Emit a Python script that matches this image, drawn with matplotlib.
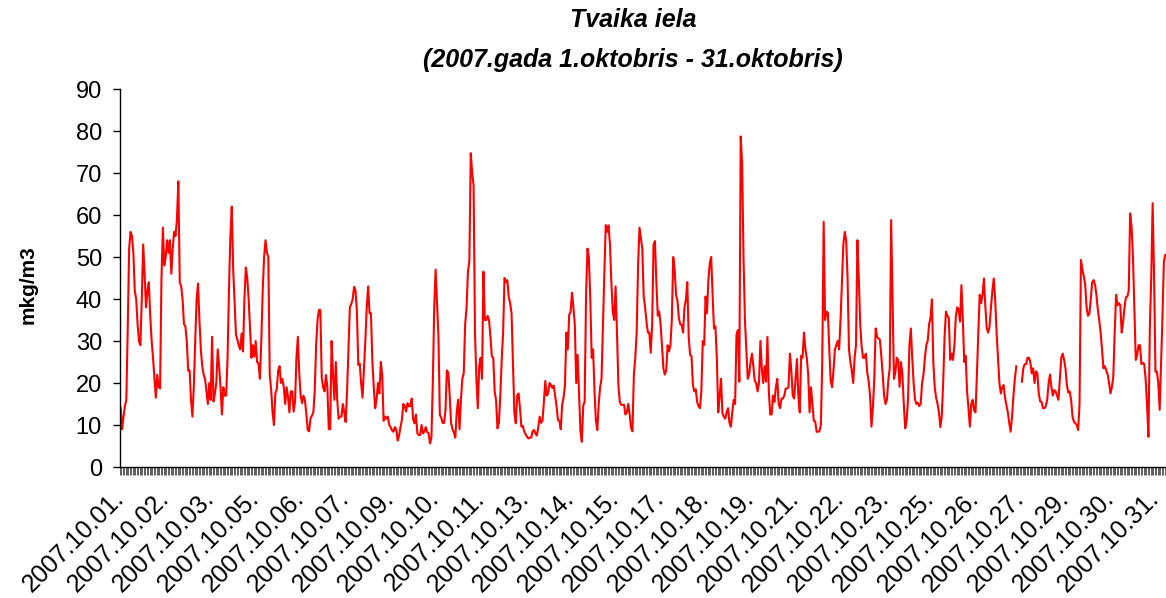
import numpy as np
import pandas as pd
import matplotlib
matplotlib.use("Agg")
import matplotlib.pyplot as plt

# hourly concentration (mkg/m3), one list per week
week1 = [
    14, 9, 12, 14.5, 16, 33, 52, 56, 55, 51,
    42, 40, 34, 30, 29, 40, 53, 46, 38, 42,
    44, 36, 30, 26, 21, 16.5, 22, 19, 18.7, 45,
    57, 48, 50, 54, 51, 54, 46, 52, 56, 55,
    59, 68, 44, 43, 40, 34, 33.5, 30, 23, 23,
    16, 12, 19, 30, 40, 43.7, 35, 28, 24, 22,
    21, 18, 15, 20, 16, 31, 15.6, 17.5, 20, 28,
    24, 19, 12.5, 19, 17, 17, 26, 42, 55, 62,
    47, 39, 31.5, 30.3, 29, 28, 31.8, 27.5, 40, 47.5,
    45, 40, 33, 26, 29, 26.3, 30, 25, 24.7, 21,
    30, 42, 50, 54, 51, 50, 22, 18.5, 13, 10,
    17.5, 18.5, 23, 24, 20, 21, 19, 15, 19, 16.7,
    13, 18, 18, 13.2, 15.5, 26, 31, 22.3, 17, 15.2,
    17, 16, 12.8, 8.8, 8.5, 11.6, 12.2, 13, 18, 29,
    35, 37.4, 37.4, 21.2, 19, 18, 21.9, 19, 9, 9,
    30, 22, 16, 25, 16, 11.5, 12, 12, 15, 13,
    10.7, 18, 28, 38, 38.8, 40, 42.9, 42.1,
]
week2 = [
    37, 24.3, 24.6, 20, 16.5, 23, 30, 38, 43, 36.6,
    36.6, 25, 19, 14, 16, 20, 17.5, 25, 22, 11,
    12, 11.5, 12, 10, 9.5, 8.7, 8.4, 9.5, 9, 6.3,
    7.5, 9.5, 11.2, 15, 14.5, 13.2, 15.2, 14.4, 14.5, 16.3,
    11.3, 10.4, 12.5, 8, 7.6, 7.6, 10, 8, 8.5, 9.5,
    8.3, 8, 5.6, 7, 20, 38, 47, 39, 31, 12.4,
    11.7, 10.5, 10.5, 13.5, 23, 22.5, 17, 10.5, 9, 8.2,
    7, 13, 16, 9, 16, 21, 22.3, 34, 38, 46.5,
    49, 74.7, 70, 67, 32, 21, 14, 24, 26, 21,
    46.5, 35, 35, 36, 35, 31, 26.3, 26, 18, 15.8,
    9.2, 10.5, 17, 25.5, 32, 45, 44, 44.5, 40.5, 39,
    36.6, 25, 13, 10.4, 17, 17.5, 14, 9.6, 9.8, 8.5,
    7.8, 7.2, 6.8, 7, 7, 8.5, 8.8, 8, 7.5, 9.4,
    12, 10.5, 11, 15.5, 20.5, 17, 17.5, 20, 19.5, 18.8,
    19.4, 17, 14.5, 11.2, 11, 9, 14.8, 16.5, 19.5, 32,
    28, 36.2, 37, 41.5, 38, 33.8, 20, 26.7, 17.5, 8.5,
    6, 14.6, 15.6, 41, 52, 50, 40, 26,
]
week3 = [
    28, 18, 11, 8.8, 15, 19, 21, 34, 46, 57.6,
    56, 57.5, 53, 44, 37, 35, 43, 32, 19.5, 15.5,
    14.8, 14.8, 14.8, 12.5, 13, 15, 12.5, 9.3, 8.5, 22,
    26, 32, 48, 57, 54.5, 52, 40.6, 38, 34.5, 32,
    32, 27.2, 34, 53, 53.8, 44, 36, 37, 34, 29,
    23.5, 22, 23, 29, 27.5, 29, 35, 50, 47, 41,
    39.6, 35.5, 34, 33.8, 32, 38, 39.8, 44, 31, 26.7,
    26.4, 19.5, 18, 18.5, 15.5, 14.5, 14, 18, 30, 29,
    40.6, 36.6, 44.5, 48.5, 50, 41, 33, 33.5, 26, 13,
    16.8, 21, 12.8, 12, 11.5, 13, 14, 10.5, 9.6, 13,
    16, 15, 31.5, 32.6, 20.3, 78.7, 72.3, 50, 35, 28,
    21, 22, 25, 27, 24, 20.5, 20, 18, 20, 30,
    23.5, 20, 24, 20.3, 31, 18, 12.5, 12.5, 17, 15.5,
    19, 21, 15, 14, 16.3, 16.3, 17, 18.7, 18.7, 19,
    27, 23, 17, 16.3, 21, 25.7, 17, 13, 26.5, 26,
    32, 28, 26, 22, 13, 19, 15, 11, 10.8, 8.4,
    8.4, 8.5, 10, 25, 58.4, 35, 37, 36.7,
]
week4 = [
    28, 20.5, 19, 23, 28, 29, 30, 28, 35, 44,
    53, 56, 54, 45, 28, 25, 23, 20, 26, 29,
    54, 45, 34, 28.7, 26, 26, 27, 22.5, 20.5, 17,
    9.6, 14, 21, 33, 31, 30.6, 30.3, 26.5, 22, 17,
    15, 16, 20.7, 23.5, 58.8, 40, 21, 22.5, 26, 25.5,
    19.1, 25, 22, 15, 9.2, 11, 16, 29, 33, 26,
    20, 16, 15, 15.3, 14.5, 15, 20, 21.9, 26, 29,
    30, 34, 35.5, 39.9, 25, 19, 16.5, 15, 13, 9.5,
    12, 20, 31, 37, 36, 35.5, 25.5, 27, 25.5, 29,
    35.8, 38, 37.5, 34.6, 43.3, 35, 25, 26.5, 18, 14,
    9.6, 15, 16, 13.5, 13, 22, 32, 41, 39, 41,
    44.9, 38.2, 33, 32, 33.5, 38, 42, 44.9, 39.8, 32,
    26, 20, 17.5, 19, 19.5, 16.5, 14.8, 13, 10.5, 8.4,
    12, 17, 21, 24, np.nan, np.nan, np.nan, 20.3, 23.5, 24.5,
    24.5, 26, 26, 25, 22.3, 23.5, 20, 22.8, 22.3, 17.5,
    15.6, 15.5, 14, 14, 14.5, 16, 20, 22, 19, 17,
    18.3, 18, 17, 16, 21, 26, 27, 25.5,
]
week5 = [
    23.5, 19.5, 17.7, 18, 16, 12, 10.8, 10.4, 10, 8.8,
    15, 49.3, 47, 45.5, 43.5, 38, 36, 36.5, 40, 44,
    44.5, 43.5, 41, 37.5, 35, 32, 28, 23.5, 24, 23,
    22, 20, 17.5, 19, 21.5, 32, 41, 38.5, 39, 38.5,
    32, 34.5, 38, 40.4, 40.6, 42, 60.4, 57.2, 50, 38,
    25.5, 26.7, 29, 29, 24.5, 24.8, 24.5, 21, 15, 7.2,
    33, 45, 62.8, 46, 22.7, 22.7, 20, 13.6, 25, 36,
    49, 50.5,
]

values = week1 + week2 + week3 + week4 + week5
hours = pd.date_range("2007-10-01 00:00", periods=len(values), freq="h")
cat_labels = list(hours.strftime("%Y.%m.%d."))
label_every = 32  # Excel shows every 32nd category label

plt.rcParams["font.family"] = ["Liberation Sans", "DejaVu Sans"]

fig = plt.figure(figsize=(11.66, 5.98), dpi=100)
ax = fig.add_axes([120 / 1166, 1 - 467 / 598, 1 - 120 / 1166, (467 - 89) / 598])

x = np.arange(len(values))
ax.plot(x, values, color="#ff0000", linewidth=1.5)

ax.set_xlim(-0.5, len(values) - 0.5)
ax.set_ylim(0, 90)
ax.set_yticks(range(0, 91, 10))
ax.tick_params(axis="y", labelsize=17, length=5, width=1, pad=8)

# category labels
ax.set_xticks(x[::label_every])
ax.set_xticklabels(cat_labels[::label_every], rotation=45, ha="right", va="center",
                   rotation_mode="anchor", fontsize=18)
ax.tick_params(axis="x", which="major", length=0, pad=20)

# one small tick per category
ax.set_xticks(np.arange(-0.5, len(values)), minor=True)
ax.tick_params(axis="x", which="minor", length=6, width=0.6, color="#444444")

ax.spines["top"].set_visible(False)
ax.spines["right"].set_visible(False)
ax.spines["left"].set_linewidth(1)
ax.spines["bottom"].set_linewidth(1)

fig.text(0.543, 1 - 20 / 598, "Tvaika iela", ha="center", va="center",
         fontsize=18, fontweight="bold", fontstyle="italic")
fig.text(0.543, 1 - 60 / 598, "(2007.gada 1.oktobris - 31.oktobris)", ha="center", va="center",
         fontsize=18, fontweight="bold", fontstyle="italic")
fig.text(28 / 1166, 1 - 285 / 598, "mkg/m3", rotation=90, ha="center", va="center",
         fontsize=15, fontweight="bold")

fig.savefig("out.png", dpi=100)
